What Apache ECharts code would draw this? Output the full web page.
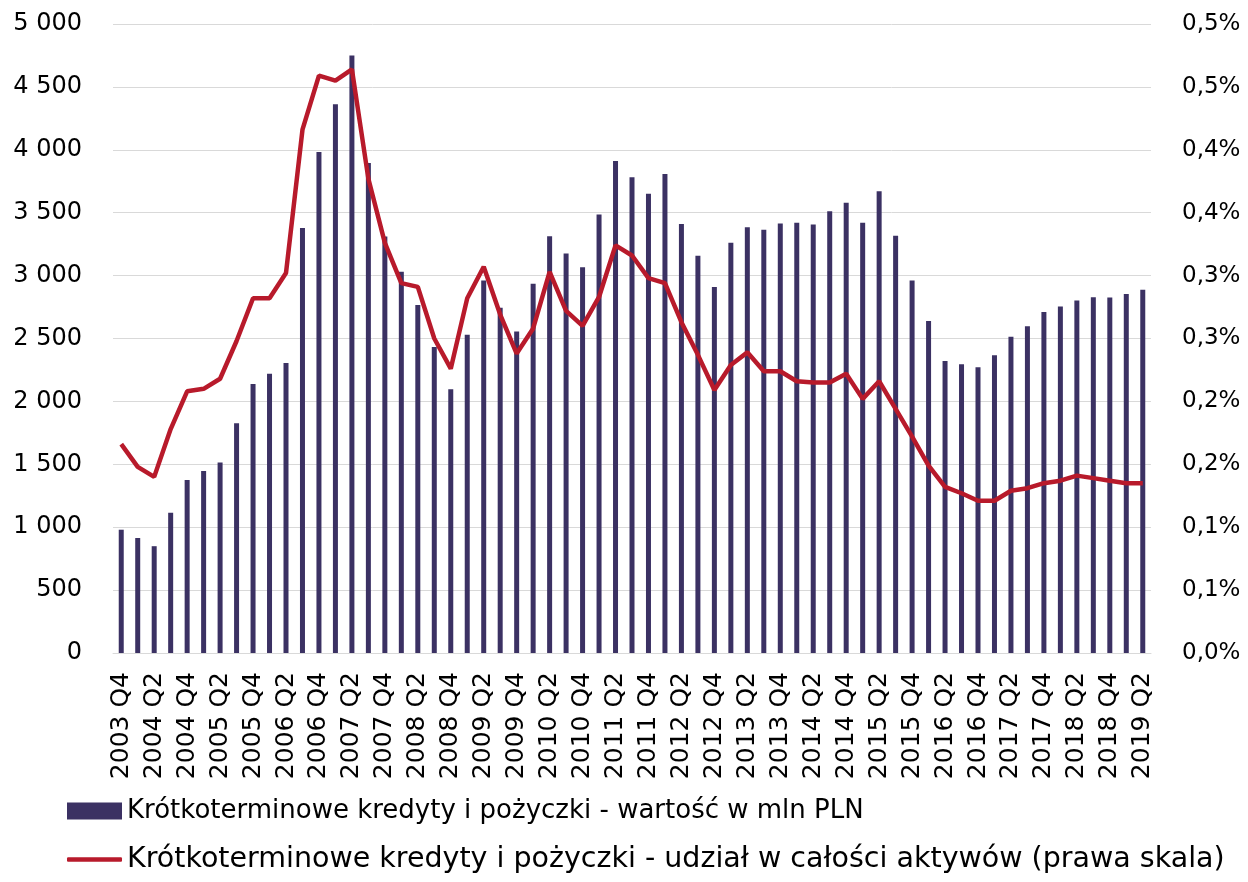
<!DOCTYPE html>
<html>
<head>
<meta charset="utf-8">
<script src="https://cdn.jsdelivr.net/npm/echarts@6/dist/echarts.min.js"></script>
<style>
  html, body { margin: 0; padding: 0; background: #fff; }
  #chart { width: 1248px; height: 882px; }
</style>
</head>
<body>
<div id="chart"></div>
<script>
const categories = [
  '2003 Q4',
  '2004 Q1', '2004 Q2', '2004 Q3', '2004 Q4',
  '2005 Q1', '2005 Q2', '2005 Q3', '2005 Q4',
  '2006 Q1', '2006 Q2', '2006 Q3', '2006 Q4',
  '2007 Q1', '2007 Q2', '2007 Q3', '2007 Q4',
  '2008 Q1', '2008 Q2', '2008 Q3', '2008 Q4',
  '2009 Q1', '2009 Q2', '2009 Q3', '2009 Q4',
  '2010 Q1', '2010 Q2', '2010 Q3', '2010 Q4',
  '2011 Q1', '2011 Q2', '2011 Q3', '2011 Q4',
  '2012 Q1', '2012 Q2', '2012 Q3', '2012 Q4',
  '2013 Q1', '2013 Q2', '2013 Q3', '2013 Q4',
  '2014 Q1', '2014 Q2', '2014 Q3', '2014 Q4',
  '2015 Q1', '2015 Q2', '2015 Q3', '2015 Q4',
  '2016 Q1', '2016 Q2', '2016 Q3', '2016 Q4',
  '2017 Q1', '2017 Q2', '2017 Q3', '2017 Q4',
  '2018 Q1', '2018 Q2', '2018 Q3', '2018 Q4',
  '2019 Q1', '2019 Q2'
];

// wartość w mln PLN
const loanValues = [
  980, 914, 849, 1115, 1375, 1447, 1515, 1827, 2139, 2220,
  2305, 3378, 3982, 4363, 4750, 3895, 3310, 3030, 2767, 2432,
  2097, 2529, 2962, 2744, 2555, 2936, 3313, 3176, 3066, 3485,
  3911, 3781, 3651, 3807, 3410, 3157, 2910, 3261, 3384, 3365,
  3414, 3420, 3407, 3511, 3579, 3420, 3670, 3316, 2962, 2640,
  2321, 2295, 2272, 2367, 2513, 2598, 2711, 2754, 2802, 2828,
  2825, 2854, 2887
];

// udział w całości aktywów, w %
const loanShare = [
  0.166, 0.148, 0.140, 0.178, 0.208, 0.210, 0.218, 0.248, 0.282, 0.282,
  0.302, 0.416, 0.459, 0.455, 0.464, 0.377, 0.326, 0.294, 0.291, 0.250,
  0.226, 0.282, 0.307, 0.269, 0.238, 0.258, 0.303, 0.272, 0.260, 0.283,
  0.324, 0.316, 0.298, 0.294, 0.263, 0.237, 0.209, 0.229, 0.239, 0.224,
  0.224, 0.216, 0.215, 0.215, 0.222, 0.202, 0.216, 0.194, 0.172, 0.149,
  0.132, 0.127, 0.121, 0.121, 0.129, 0.131, 0.135, 0.137, 0.141, 0.139,
  0.137, 0.135, 0.135
];

const leftTickLabels = ['0', '500', '1 000', '1 500', '2 000', '2 500', '3 000', '3 500', '4 000', '4 500', '5 000'];
const rightTickLabels = ['0,0%', '0,1%', '0,1%', '0,2%', '0,2%', '0,3%', '0,3%', '0,4%', '0,4%', '0,5%', '0,5%'];

const barName = 'Krótkoterminowe kredyty i pożyczki - wartość w mln PLN';
const lineName = 'Krótkoterminowe kredyty i pożyczki - udział w całości aktywów (prawa skala)';

const font = 'DejaVu Sans';
const barColor = '#3b3163';
const lineColor = '#b81a2b';

var chartDom = document.getElementById('chart');
var myChart = echarts.init(chartDom);
var option;

option = {
  animation: false,
  textStyle: { fontFamily: font, color: '#000' },
  grid: {
    left: 113,
    right: 97,
    top: 24,
    bottom: 229,
  },
  legend: [
    {
      left: 67,
      top: 798,
      padding: 0,
      itemWidth: 55,
      itemHeight: 17,
      itemGap: 0,
      textStyle: { fontFamily: font, fontSize: 26, color: '#000', padding: 0 },
      data: [{ name: barName, icon: 'rect' }],
    },
    {
      left: 67,
      top: 845,
      padding: 0,
      itemWidth: 55,
      itemHeight: 4.5,
      itemGap: 0,
      textStyle: { fontFamily: font, fontSize: 28.5, color: '#000', padding: 0 },
      data: [{ name: lineName, icon: 'roundRect' }],
    },
  ],
  xAxis: {
    type: 'category',
    data: categories,
    axisTick: { show: false },
    axisLine: { lineStyle: { color: '#d9d9d9', width: 1 } },
    axisLabel: {
      interval: 1,
      rotate: 90,
      margin: 19,
      fontFamily: font,
      fontSize: 25,
      color: '#000',
    },
  },
  yAxis: [
    {
      type: 'value',
      min: 0,
      max: 5000,
      interval: 500,
      axisLine: { show: false },
      axisTick: { show: false },
      splitLine: { lineStyle: { color: '#d9d9d9', width: 1 } },
      axisLabel: {
        margin: 31,
        fontFamily: font,
        fontSize: 24,
        color: '#000',
        formatter: function (v) { return leftTickLabels[Math.round(v / 500)]; },
      },
    },
    {
      type: 'value',
      min: 0,
      max: 0.5,
      interval: 0.05,
      axisLine: { show: false },
      axisTick: { show: false },
      splitLine: { show: false },
      axisLabel: {
        margin: 31,
        fontFamily: font,
        fontSize: 23,
        color: '#000',
        formatter: function (v) { return rightTickLabels[Math.round(v / 0.05)]; },
      },
    },
  ],
  series: [
    {
      name: barName,
      type: 'bar',
      data: loanValues,
      barWidth: 5,
      itemStyle: { color: barColor },
    },
    {
      name: lineName,
      type: 'line',
      yAxisIndex: 1,
      data: loanShare,
      symbol: 'none',
      lineStyle: { color: lineColor, width: 4.5 },
      itemStyle: { color: lineColor },
    },
  ],
};

option && myChart.setOption(option);
</script>
</body>
</html>
